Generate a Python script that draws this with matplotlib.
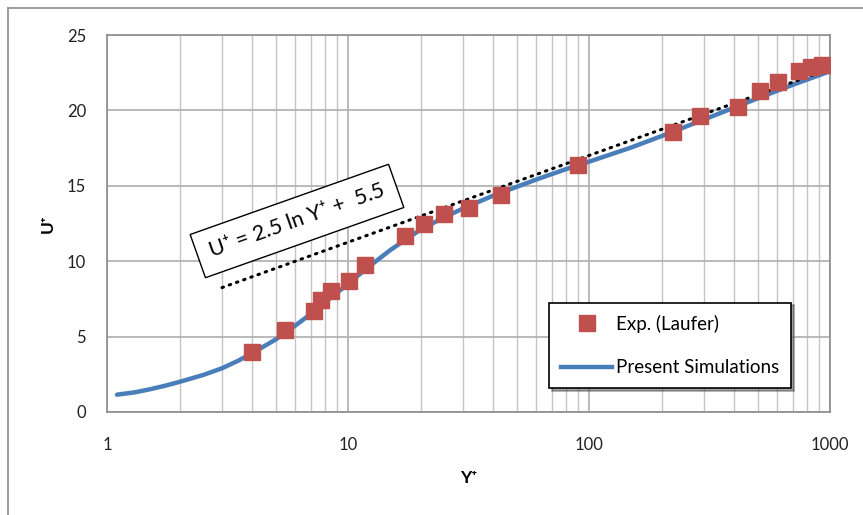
import numpy as np
import matplotlib.pyplot as plt
from matplotlib.lines import Line2D

plt.rcParams['font.family'] = ['Lato', 'DejaVu Sans']

# Laufer pipe-flow data
yp_exp = [4.0, 5.5, 7.2, 7.7, 8.5, 10.1, 11.7, 17.3, 20.7, 25.1, 31.6, 43,
          90, 222, 287, 414, 511, 607, 743, 833, 926]
up_exp = [4.0, 5.45, 6.7, 7.4, 8.0, 8.7, 9.75, 11.67, 12.5, 13.1, 13.5, 14.4,
          16.4, 18.6, 19.6, 20.2, 21.3, 21.9, 22.6, 22.9, 23.0]

# simulated profile
yp_sim = [1.1, 1.3, 1.5, 1.75, 2, 2.5, 3, 3.5, 4, 5, 6, 7, 8, 10, 12, 15, 20,
          25, 30, 40, 60, 80, 100, 150, 200, 300, 500, 700, 1000]
up_sim = [1.15, 1.3, 1.5, 1.75, 2.0, 2.45, 2.9, 3.4, 3.9, 4.8, 5.7, 6.5, 7.25,
          8.5, 9.55, 10.75, 12.1, 12.9, 13.5, 14.35, 15.4, 16.1, 16.6, 17.55,
          18.3, 19.4, 20.8, 21.7, 22.6]

# log law U+ = 2.5 ln Y+ + 5.5
yp_log = [3, 1000]
up_log = [8.25, 22.77]

fig = plt.figure(figsize=(8.63, 5.15), dpi=100)
ax = fig.add_axes([0.124, 0.2, 0.838, 0.732])

ax.set_xscale('log')
ax.set_xlim(1, 1000)
ax.set_ylim(0, 25)
ax.set_yticks([0, 5, 10, 15, 20, 25])
ax.set_xticks([1, 10, 100, 1000])
ax.set_xticklabels(['1', '10', '100', '1000'])
ax.minorticks_on()
ax.yaxis.set_minor_locator(plt.NullLocator())
ax.grid(True, which='major', color='#b4b4b4', lw=1.3)
ax.grid(True, which='minor', axis='x', color='#c4c4c4', lw=1.0)
ax.set_axisbelow(True)
ax.tick_params(which='both', length=0, labelsize=12, colors='#222222')
ax.tick_params(axis='x', pad=18)
ax.tick_params(axis='y', pad=15)
for s in ax.spines.values():
    s.set_color('#8c8c8c')
    s.set_linewidth(1.2)

ax.plot(yp_sim, up_sim, color='#4a7ebb', lw=3.2, solid_capstyle='round', zorder=3)
ax.plot(yp_log, up_log, color='black', lw=2.2, ls=(0, (0.5, 2.0)),
        dash_capstyle='round', zorder=4)
ax.plot(yp_exp, up_exp, ls='none', marker='s', ms=11.5, color='#c0504d',
        mec='#c0504d', zorder=5)

ax.set_xlabel('Y⁺', fontsize=12.5, fontweight='bold', labelpad=12)
ax.set_ylabel('U⁺', fontsize=12.5, fontweight='bold', labelpad=8)

# equation label, placed in pixel coordinates (origin bottom-left)
ax.text(297, 515 - 221, 'U⁺ = 2.5 ln Y⁺ +  5.5', transform=None,
        fontsize=15.5, rotation=19.5, ha='center', va='center',
        rotation_mode='anchor', zorder=6,
        bbox=dict(boxstyle='square,pad=0.6', fc='white', ec='black', lw=1.0))

handles = [Line2D([], [], ls='none', marker='s', ms=11, color='#c0504d'),
           Line2D([], [], color='#4a7ebb', lw=3.2)]
leg = ax.legend(handles, ['Exp. (Laufer)', 'Present Simulations'],
                loc='lower right', bbox_to_anchor=(0.946, 0.063),
                fontsize=13.5, frameon=True, fancybox=False, shadow=True,
                borderpad=0.65, labelspacing=1.4, handlelength=2.7,
                handletextpad=0.2, borderaxespad=0)
leg.get_frame().set_edgecolor('black')
leg.get_frame().set_linewidth(1.2)

# outer chart border (top and left)
fig.add_artist(Line2D([8 / 863, 1], [1 - 8 / 515, 1 - 8 / 515],
                      transform=fig.transFigure, color='#8c8c8c', lw=1.2))
fig.add_artist(Line2D([8 / 863, 8 / 863], [0, 1 - 8 / 515],
                      transform=fig.transFigure, color='#8c8c8c', lw=1.2))

fig.savefig('out.png', dpi=100)
